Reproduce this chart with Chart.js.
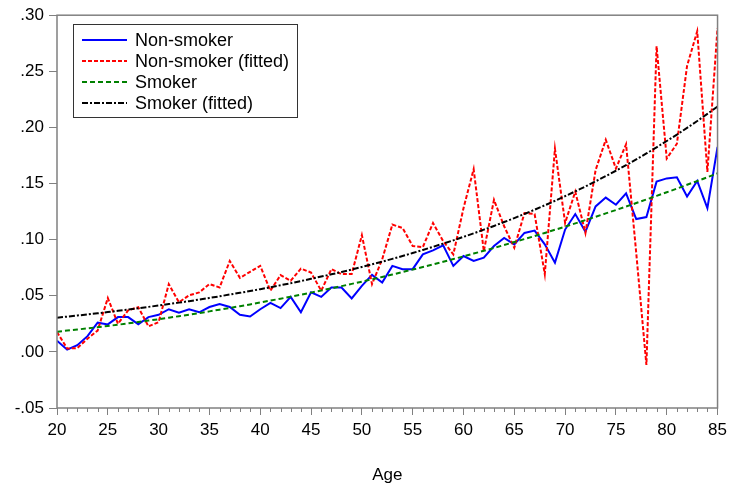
<!DOCTYPE html>
<html>
<head>
<meta charset="utf-8">
<script src="https://cdn.jsdelivr.net/npm/chart.js@4.4.0/dist/chart.umd.min.js"></script>
<style>
    html, body {margin: 0; padding: 0; background: #fff;}
    #wrap {width: 732px; height: 492px;}
</style>
</head>
<body>
<div id="wrap"><canvas id="drawChart" width="732" height="492"></canvas></div>
<script>
const ages = [20, 21, 22, 23, 24, 25, 26, 27, 28, 29,
    30, 31, 32, 33, 34, 35, 36, 37, 38, 39,
    40, 41, 42, 43, 44, 45, 46, 47, 48, 49,
    50, 51, 52, 53, 54, 55, 56, 57, 58, 59,
    60, 61, 62, 63, 64, 65, 66, 67, 68, 69,
    70, 71, 72, 73, 74, 75, 76, 77, 78, 79,
    80, 81, 82, 83, 84, 85];

const nonSmoker = [0.010, 0.002, 0.006, 0.014, 0.026, 0.0245, 0.031, 0.031, 0.0245, 0.031,
    0.033, 0.038, 0.035, 0.038, 0.0353, 0.040, 0.0427, 0.040, 0.033, 0.0315,
    0.038, 0.0436, 0.039, 0.049, 0.0353, 0.053, 0.049, 0.0574, 0.0574, 0.0477,
    0.0589, 0.0686, 0.0618, 0.0766, 0.0737, 0.0737, 0.0869, 0.0905, 0.095, 0.0766,
    0.0854, 0.081, 0.0839, 0.0943, 0.1016, 0.0958, 0.106, 0.1081, 0.0958, 0.0795,
    0.109, 0.1228, 0.107, 0.1296, 0.1375, 0.1311, 0.1413, 0.1184, 0.1201, 0.1517,
    0.1546, 0.1555, 0.1384, 0.1523, 0.1281, 0.1826];

const nonSmokerFitted = [0.0177, 0.003, 0.0034, 0.0118, 0.019, 0.048, 0.025, 0.037, 0.0398, 0.0227,
    0.0265, 0.0604, 0.0442, 0.0504, 0.053, 0.0604, 0.0574, 0.081, 0.066, 0.0713,
    0.0766, 0.0545, 0.0684, 0.0634, 0.0742, 0.0707, 0.0545, 0.0737, 0.0693, 0.0693,
    0.104, 0.0604, 0.0825, 0.1134, 0.1104, 0.0943, 0.0934, 0.1148, 0.0987, 0.0869,
    0.128, 0.1628, 0.0898, 0.1355, 0.1119, 0.0928, 0.1237, 0.1228, 0.0693, 0.181,
    0.1149, 0.1428, 0.106, 0.162, 0.189, 0.1634, 0.185, 0.088, -0.0117, 0.2724,
    0.1723, 0.1855, 0.2548, 0.2857, 0.1604, 0.2886];

const smoker = [0.0180, 0.0190, 0.0199, 0.0210, 0.0220, 0.0231, 0.0242, 0.0254, 0.0266, 0.0279,
    0.0291, 0.0305, 0.0318, 0.0332, 0.0346, 0.0361, 0.0376, 0.0391, 0.0407, 0.0423,
    0.0440, 0.0457, 0.0474, 0.0492, 0.0510, 0.0528, 0.0547, 0.0566, 0.0586, 0.0606,
    0.0626, 0.0647, 0.0668, 0.0689, 0.0711, 0.0734, 0.0756, 0.0779, 0.0803, 0.0827,
    0.0851, 0.0876, 0.0901, 0.0926, 0.0952, 0.0979, 0.1005, 0.1032, 0.1060, 0.1088,
    0.1116, 0.1145, 0.1174, 0.1204, 0.1234, 0.1264, 0.1295, 0.1326, 0.1358, 0.1390,
    0.1422, 0.1455, 0.1489, 0.1522, 0.1556, 0.1591];

const smokerFitted = [0.0305, 0.0314, 0.0324, 0.0334, 0.0344, 0.0355, 0.0366, 0.0377, 0.0389, 0.0401,
    0.0413, 0.0426, 0.0439, 0.0452, 0.0466, 0.0481, 0.0495, 0.0511, 0.0526, 0.0542,
    0.0559, 0.0576, 0.0594, 0.0612, 0.0631, 0.0651, 0.0671, 0.0691, 0.0712, 0.0734,
    0.0757, 0.0780, 0.0804, 0.0829, 0.0854, 0.0881, 0.0908, 0.0936, 0.0965, 0.0994,
    0.1025, 0.1056, 0.1089, 0.1122, 0.1157, 0.1192, 0.1229, 0.1267, 0.1306, 0.1346,
    0.1388, 0.1430, 0.1474, 0.1520, 0.1566, 0.1614, 0.1664, 0.1715, 0.1768, 0.1823,
    0.1879, 0.1936, 0.1996, 0.2057, 0.2121, 0.2186];

const seriesNames = ['Non-smoker', 'Non-smoker (fitted)', 'Smoker', 'Smoker (fitted)'];
const xTicks = [20, 25, 30, 35, 40, 45, 50, 55, 60, 65, 70, 75, 80, 85];
const yTicks = [-0.05, 0, 0.05, 0.10, 0.15, 0.20, 0.25, 0.30];

const fontName = "'Liberation Sans', Arial, sans-serif";
const axisGray = '#808080';

function toPoints(values) {
    return ages.map(function (a, i) { return {x: a, y: values[i]}; });
}

// frame round the plot + the small yearly ticks under the x axis
const framePlugin = {
    id: 'frame',
    afterDraw(chart) {
        const c = chart.ctx;
        const a = chart.chartArea;
        const xs = chart.scales.x;
        c.save();
        c.strokeStyle = axisGray;
        c.lineWidth = 1.5;
        c.strokeRect(a.left, a.top, a.right - a.left, a.bottom - a.top);
        c.lineWidth = 1;
        c.beginPath();
        ages.forEach(function (age) {
            if (age % 5 === 0) return;
            const px = Math.round(xs.getPixelForValue(age)) + 0.5;
            c.moveTo(px, a.bottom);
            c.lineTo(px, a.bottom + 4);
        });
        c.stroke();
        c.restore();
    }
};

// legend box inside the plot, top left
const legendPlugin = {
    id: 'boxLegend',
    afterDraw(chart) {
        const c = chart.ctx;
        const left = 73, top = 24, w = 224, h = 93, rowH = 21;
        c.save();
        c.fillStyle = '#fff';
        c.fillRect(left, top, w, h);
        c.strokeStyle = '#333';
        c.lineWidth = 1;
        c.strokeRect(left + 0.5, top + 0.5, w, h);
        c.font = '18px ' + fontName;
        c.textBaseline = 'middle';
        chart.data.datasets.forEach(function (ds, i) {
            const y = top + 16 + i * rowH;
            c.strokeStyle = ds.borderColor;
            c.lineWidth = ds.borderWidth;
            c.setLineDash(ds.borderDash || []);
            c.beginPath();
            c.moveTo(left + 9, y);
            c.lineTo(left + 54, y);
            c.stroke();
            c.setLineDash([]);
            c.fillStyle = '#000';
            c.fillText(ds.label, left + 62, y + 1);
        });
        c.restore();
    }
};

const ctx = document.getElementById('drawChart').getContext('2d');
const myChart = new Chart(ctx, {
    type: 'line',
    data: {
        datasets: [{
            label: seriesNames[0],
            data: toPoints(nonSmoker),
            borderColor: '#0000ff',
            borderWidth: 2,
            order: 3
        }, {
            label: seriesNames[1],
            data: toPoints(nonSmokerFitted),
            borderColor: '#ff0000',
            borderWidth: 2,
            borderDash: [4, 2],
            order: 2
        }, {
            label: seriesNames[2],
            data: toPoints(smoker),
            borderColor: '#008000',
            borderWidth: 2,
            borderDash: [5, 3],
            order: 1
        }, {
            label: seriesNames[3],
            data: toPoints(smokerFitted),
            borderColor: '#000000',
            borderWidth: 2,
            borderDash: [6, 2, 2, 2],
            order: 0
        }]
    },
    options: {
        responsive: false,
        animation: false,
        devicePixelRatio: 1,
        elements: {
            point: {radius: 0},
            line: {tension: 0, fill: false}
        },
        layout: {padding: {left: 0, right: 11, top: 12, bottom: 0}},
        plugins: {
            legend: {display: false},
            tooltip: {enabled: false}
        },
        scales: {
            x: {
                type: 'linear',
                min: 20,
                max: 85,
                afterBuildTicks: function (s) { s.ticks = xTicks.map(function (v) { return {value: v}; }); },
                afterFit: function (s) { s.height = 84; },
                ticks: {
                    color: '#000',
                    font: {family: fontName, size: 17},
                    padding: 5,
                    maxRotation: 0,
                    autoSkip: false
                },
                grid: {drawOnChartArea: false, tickLength: 7, color: axisGray},
                border: {display: false},
                title: {
                    display: true,
                    text: 'Age',
                    color: '#000',
                    font: {family: fontName, size: 17},
                    padding: {top: 0, bottom: 6}
                }
            },
            y: {
                min: -0.05,
                max: 0.30,
                afterBuildTicks: function (s) { s.ticks = yTicks.map(function (v) { return {value: v}; }); },
                afterFit: function (s) { s.width = 57; },
                ticks: {
                    color: '#000',
                    font: {family: fontName, size: 17},
                    padding: 5,
                    callback: function (v) { return v.toFixed(2).replace('0.', '.'); }
                },
                grid: {drawOnChartArea: false, tickLength: 8, color: axisGray},
                border: {display: false}
            }
        }
    },
    plugins: [framePlugin, legendPlugin]
});
</script>
</body>
</html>
